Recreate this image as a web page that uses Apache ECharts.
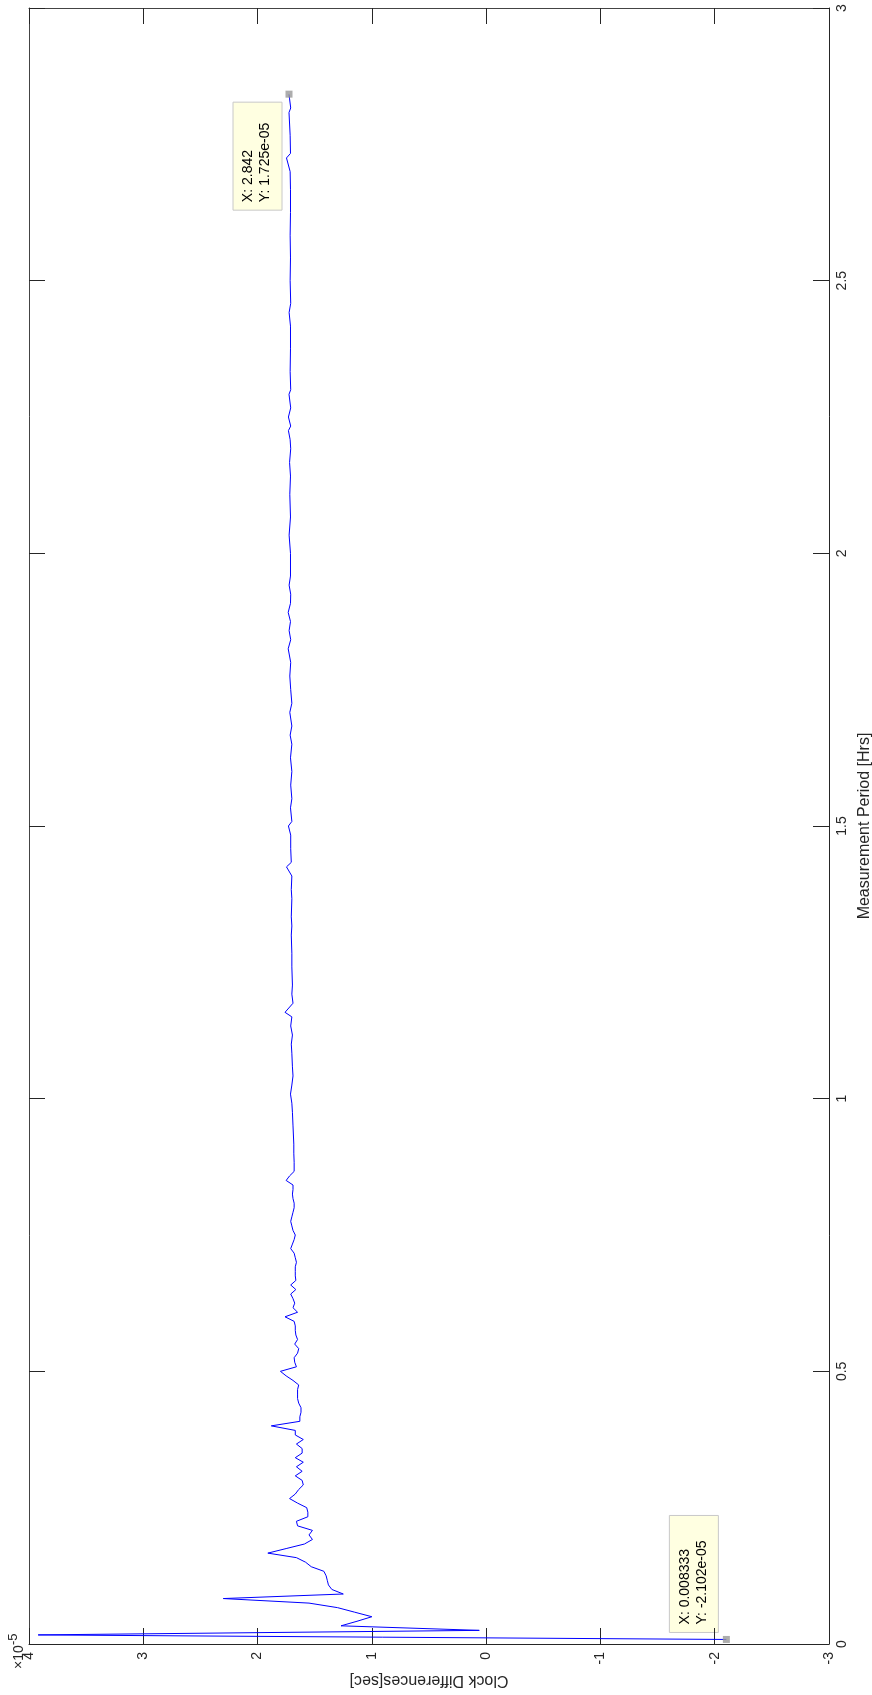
<!DOCTYPE html>
<html>
<head>
<meta charset="utf-8">
<script src="https://cdn.jsdelivr.net/npm/echarts@6/dist/echarts.min.js"></script>
<style>
  html, body { margin: 0; padding: 0; background: #fff; }
  #main { width: 872px; height: 1695px; }
</style>
</head>
<body>
<div id="main"></div>
<script>
// samples were taken every 30 s -> sample number n is at n/120 hours
const sampleNo = [
  1, 2, 3, 4, 5, 6, 7, 8, 9, 10, 11, 12, 13, 14, 15, 16, 17, 18, 19, 20,
  21, 22, 23, 24, 25, 26, 27, 28, 29, 30, 31, 32, 33, 34, 35, 36, 37, 38, 39, 40,
  41, 42, 43, 44, 45, 46, 47, 48, 49, 50, 51, 52, 53, 54, 55, 56, 57, 58, 59, 60,
  61, 62, 63, 64, 65, 66, 67, 68, 69, 70, 71, 72, 73, 74, 75, 76, 77, 78, 79, 80,
  81, 82, 83, 84, 85, 86, 87, 88, 89, 90, 91, 92, 93, 94, 95, 96, 97, 98, 99, 100,
  101, 102, 103, 104, 106, 108,
  110, 114, 117, 119, 121, 123, 125, 127, 130, 132, 134, 136, 138, 139, 141, 143, 145, 149,
  152, 156, 158, 160, 164, 166, 169, 171, 172, 175, 178, 180, 181, 184, 186, 189,
  192, 195, 198, 200, 202, 205, 207, 210, 213, 216, 219, 221, 223, 225, 227, 229,
  231, 233, 235, 240, 244, 248, 253, 257, 260, 263, 265, 267, 268, 270, 272, 275,
  276, 280, 285, 290, 293, 295, 300, 305, 310, 315, 320, 324, 327, 328, 332, 337,
  338, 340, 341
];
// clock difference in units of 1e-5 sec
const clockDiff = [
  -2.102, 3.92, 0.06, 1.27, 1.13, 1.00, 1.15, 1.30, 1.55, 2.30, 1.25, 1.35, 1.38, 1.39, 1.40, 1.42, 1.53, 1.58, 1.66, 1.91,
  1.75, 1.59, 1.52, 1.55, 1.52, 1.65, 1.66, 1.56, 1.56, 1.57, 1.65, 1.72, 1.67, 1.64, 1.60, 1.61, 1.67, 1.61, 1.66, 1.60,
  1.67, 1.61, 1.61, 1.66, 1.60, 1.67, 1.67, 1.88, 1.63, 1.63, 1.62, 1.62, 1.64, 1.65, 1.65, 1.65, 1.64, 1.69, 1.75, 1.80,
  1.66, 1.675, 1.68, 1.65, 1.64, 1.675, 1.65, 1.665, 1.67, 1.67, 1.68, 1.76, 1.65, 1.69, 1.675, 1.69, 1.71, 1.665, 1.71, 1.665,
  1.67, 1.67, 1.67, 1.66, 1.67, 1.68, 1.71, 1.695, 1.68, 1.67, 1.69, 1.70, 1.71, 1.70, 1.69, 1.68, 1.68, 1.69, 1.695, 1.69,
  1.69, 1.75, 1.72, 1.68, 1.68, 1.683,
  1.683, 1.69, 1.695, 1.70, 1.712, 1.70, 1.69, 1.695, 1.70, 1.705, 1.695, 1.71, 1.70, 1.76, 1.69, 1.70, 1.695, 1.70,
  1.70, 1.705, 1.70, 1.705, 1.70, 1.705, 1.70, 1.747, 1.705, 1.71, 1.71, 1.73, 1.70, 1.712, 1.70, 1.71,
  1.70, 1.712, 1.70, 1.715, 1.70, 1.718, 1.70, 1.71, 1.718, 1.71, 1.732, 1.71, 1.724, 1.712, 1.732, 1.712,
  1.71, 1.724, 1.712, 1.712, 1.724, 1.712, 1.718, 1.712, 1.72, 1.71, 1.715, 1.73, 1.71, 1.73, 1.71, 1.725,
  1.71, 1.715, 1.712, 1.712, 1.724, 1.71, 1.715, 1.712, 1.715, 1.712, 1.712, 1.715, 1.747, 1.712, 1.715, 1.725,
  1.71, 1.72, 1.725
];

// data tips
const tipHours = [0.008333, 2.842];
const tipDiff = [-2.102, 1.725];
const tipText = ['X: 0.008333\nY: -2.102e-05', 'X: 2.842\nY: 1.725e-05'];

const diffTicks = [-3, 4];
const hourTicks = [0, 3];

const FONT = '"Liberation Sans", Arial, Helvetica, sans-serif';
const AX = '#262626';

const lineData = sampleNo.map((n, i) => [clockDiff[i], n / 120]);
const tipData = tipHours.map((h, i) => [tipDiff[i], h]);

const myChart = echarts.init(document.getElementById('main'));

const option = {
  animation: false,
  backgroundColor: '#fff',
  grid: { left: 29, right: 43, top: 8, bottom: 51, containLabel: false, outerBoundsMode: 'none' },
  xAxis: [
    {
      type: 'value', position: 'bottom', inverse: true,
      min: diffTicks[0], max: diffTicks[1], interval: 1,
      axisLine: { onZero: false, lineStyle: { color: AX, width: 1 } },
      axisTick: { inside: true, length: 16, lineStyle: { color: AX } },
      axisLabel: { rotate: 90, margin: 8, fontSize: 14, color: AX, fontFamily: FONT },
      splitLine: { show: false },
      name: 'Clock Differences[sec]', nameLocation: 'middle', nameGap: 27, nameRotate: 180,
      nameTextStyle: { fontSize: 16, color: AX, fontFamily: FONT }
    },
    {
      type: 'value', position: 'top', inverse: true,
      min: diffTicks[0], max: diffTicks[1], interval: 1,
      axisLine: { onZero: false, lineStyle: { color: '#444', width: 1 } },
      axisTick: { inside: true, length: 16, lineStyle: { color: AX } },
      axisLabel: { show: false },
      splitLine: { show: false }
    }
  ],
  yAxis: [
    {
      type: 'value', position: 'right',
      min: hourTicks[0], max: hourTicks[1], interval: 0.5,
      axisLine: { show: true, onZero: false, lineStyle: { color: AX, width: 1 } },
      axisTick: { show: true, inside: true, length: 16, lineStyle: { color: AX } },
      axisLabel: {
        rotate: 90, margin: 6, fontSize: 14, color: AX, fontFamily: FONT,
        align: 'center', verticalAlign: 'top'
      },
      splitLine: { show: false },
      name: 'Measurement Period [Hrs]', nameLocation: 'middle', nameGap: 25, nameRotate: 90,
      nameTextStyle: { fontSize: 16, color: AX, fontFamily: FONT }
    },
    {
      type: 'value', position: 'left',
      min: hourTicks[0], max: hourTicks[1], interval: 0.5,
      axisLine: { show: true, onZero: false, lineStyle: { color: '#444', width: 1 } },
      axisTick: { show: true, inside: true, length: 16, lineStyle: { color: AX } },
      axisLabel: { show: false },
      splitLine: { show: false }
    }
  ],
  series: [
    {
      type: 'line',
      data: lineData,
      showSymbol: false,
      lineStyle: { color: '#0000ff', width: 1 },
      z: 2
    },
    {
      type: 'scatter',
      data: tipData,
      symbol: 'rect',
      symbolSize: 7,
      itemStyle: { color: '#999999' },
      z: 5
    }
  ]
};
myChart.setOption(option);

// data tip boxes: group rotated 90deg, origin at the box's lower-left corner on screen
function tipBox(i, origin, len) {
  return {
    type: 'group',
    x: origin[0], y: origin[1],
    rotation: Math.PI / 2,
    z: 10,
    children: [
      {
        type: 'rect',
        shape: { x: 0, y: 0, width: len, height: 49 },
        style: { fill: '#ffffe1', stroke: '#c8c8c8', lineWidth: 1 }
      },
      {
        type: 'text',
        x: 8, y: 7,
        style: {
          text: tipText[i],
          font: '14px ' + FONT,
          fill: '#000',
          align: 'left',
          verticalAlign: 'top',
          lineHeight: 17
        }
      }
    ]
  };
}

const p0 = myChart.convertToPixel({ seriesIndex: 1 }, tipData[0]);
const p1 = myChart.convertToPixel({ seriesIndex: 1 }, tipData[1]);

myChart.setOption({
  graphic: [
    tipBox(0, [p0[0] - 57, p0[1] - 7], 117),
    tipBox(1, [p1[0] - 56, p1[1] + 8 + 108], 108),
    {
      type: 'text', x: 19, y: 1669, rotation: Math.PI / 2,
      style: { text: '\u00d710', font: '14px ' + FONT, fill: AX, align: 'left', verticalAlign: 'middle' }
    },
    {
      type: 'text', x: 13, y: 1645, rotation: Math.PI / 2,
      style: { text: '-5', font: '13px ' + FONT, fill: AX, align: 'left', verticalAlign: 'middle' }
    }
  ]
});

window.onresize = function () {
  myChart.resize();
};
</script>
</body>
</html>
